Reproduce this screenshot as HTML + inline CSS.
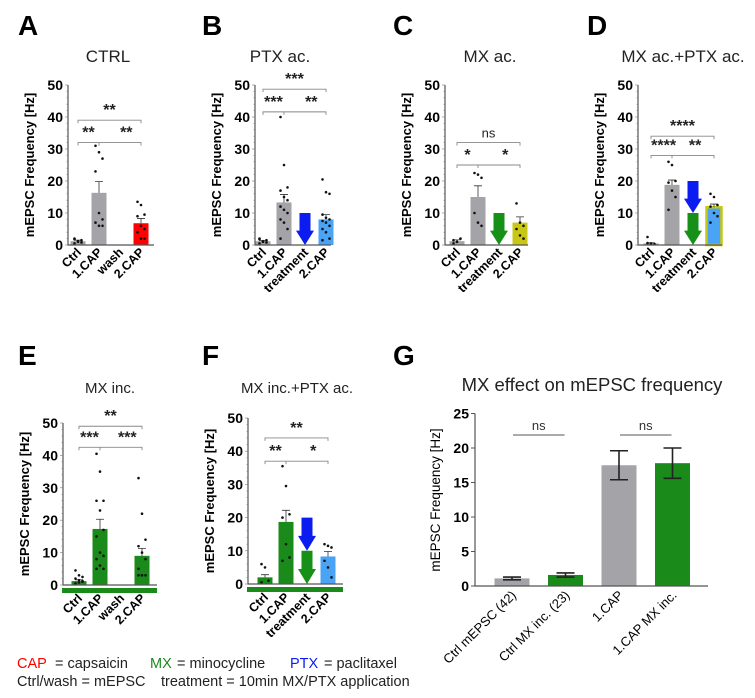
<!DOCTYPE html>
<html><head><meta charset="utf-8"><style>
body{margin:0;background:#fff;}
svg{display:block;font-family:"Liberation Sans",Arial,sans-serif;}
</style></head><body>
<svg id="fig" width="755" height="698" viewBox="0 0 755 698" xmlns="http://www.w3.org/2000/svg"></svg>
<script>
const catsCAPwash = ["Ctrl","1.CAP","wash","2.CAP"];
const catsTreat = ["Ctrl","1.CAP","treatment","2.CAP"];
const yTicks = [0,10,20,30,40,50];

const aMeans = [1.2,16.3,null,6.8];
const aSems = [0.3,3.5,null,1.5];
const aPoints = [[0.5,1,1.5,2,1.2,0.8,1.8],[31,29,27,23,10,8,7,6,6],[],[13.5,12.5,9.5,9,6,5,4,2,2,4]];
const bMeans = [1.2,13.3,null,8];
const bSems = [0.2,2.5,null,1.5];
const bPoints = [[0.5,1,1.5,2,1.2,0.8,1.8,1],[40,25,18,17,15,14,12,11,10,8,7,5,2],[],[20.5,16.5,16,9.5,8.5,8,7.5,7,6,5,4,2,1.5]];
const cMeans = [1.2,15,null,7];
const cSems = [0.4,3.5,null,1.8];
const cPoints = [[0.5,1,2,1.5,1],[22.5,22,21,10,7,6],[],[13,7,6,5,3,2]];
const dMeans = [0.5,18.8,null,11.8];
const dSems = [0.2,1.5,null,1];
const dPoints = [[2.5,0.5,0.3,0.6,0.4],[26,25,20,19.5,17,15,11],[],[16,15,12.5,12,10,9,7]];
const eMeans = [1.2,17.3,null,9];
const eSems = [0.4,3,null,2.3];
const ePoints = [[4.5,3,2.5,2,1.5,1,0.5,0.8,1.2],[40.5,35,26,26,23,17,15,10,9,8,6,5,5],[],[33,22,14,12,10,8,5,3,3,3,3]];
const fMeans = [2,18.7,null,8.3];
const fSems = [0.8,3.5,null,1.5];
const fPoints = [[6,5,1,0.5],[35.5,29.5,21,20,12,8,7],[],[12,11.5,11,7,5,2]];

const gCats = ["Ctrl mEPSC (42)","Ctrl MX inc. (23)","1.CAP","1.CAP MX inc."];
const gMeans = [1.1,1.6,17.5,17.8];
const gSems = [0.2,0.3,2.1,2.2];
const gTicks = [0,5,10,15,20,25];

const NS="http://www.w3.org/2000/svg";
const svg=document.getElementById('fig');
function mk(tag,attrs,parent,text){const e=document.createElementNS(NS,tag);for(const k in attrs)e.setAttribute(k,attrs[k]);if(text!==undefined)e.textContent=text;(parent||svg).appendChild(e);return e;}
const GREY="#a3a3a8",GREEN="#1a8a1a",RED="#f00",LBLUE="#4aa3f5",YEL="#c8c814",BLUE="#0a1cf0",AGREEN="#169016";

function panel(p){
  const g=mk('g',{});
  
  
  const ys=v=>p.y0-(v/50)*(p.y0-p.y50);
  const xs=i=>p.ax+p.off+i*21;
  let t=mk('text',{x:p.lx,y:p.ly,'font-size':28,'font-weight':'bold'},g,p.letter);
  
  t=mk('text',{x:p.tx,y:p.ty,'font-size':p.tfs,'text-anchor':'middle',fill:'#222'},g,p.title);
  
  t=mk('text',{x:0,y:0,'font-size':13,'font-weight':'bold','text-anchor':'middle',transform:`translate(${p.ax-34},${(p.y0+p.y50)/2}) rotate(-90)`},g,'mEPSC Frequency [Hz]');
  
  p.means.forEach((m,i)=>{
    if(m===null)return;
    const col=p.colors[i];
    const r=mk('rect',{x:xs(i)-7.5,y:ys(m),width:15,height:p.y0-ys(m),fill:col.fill,stroke:col.stroke||'none','stroke-width':col.stroke?2.5:0},g);
    
    
    const s=p.sems[i];
    mk('path',{d:`M${xs(i)} ${ys(m)}V${ys(m+s)}M${xs(i)-4} ${ys(m+s)}H${xs(i)+4}`,stroke:'#333','stroke-width':0.8,fill:'none'},g);
    p.points[i].forEach((v,j)=>{
      const c=mk('circle',{cx:xs(i)+((j%3)-1)*3.5,cy:ys(v),r:1.3,fill:'#111'},g);
      
    });
  });
  p.arrows.forEach(a=>{
    const x=xs(2),top=ys(a.from),bot=ys(a.to),h=(bot-top)*0.45;
    const ar=mk('polygon',{points:`${x-5.5},${top} ${x+5.5},${top} ${x+5.5},${bot-h} ${x+9},${bot-h} ${x},${bot} ${x-9},${bot-h} ${x-5.5},${bot-h}`,fill:a.color},g);
    
  });
  const ax=mk('path',{d:`M${p.ax} ${p.y50}V${p.y0}H${p.ax+p.len}`,stroke:'#555','stroke-width':1.2,fill:'none'},g);
  
  for(let v=0;v<=50;v+=2){mk('line',{x1:p.ax-(v%10?1.5:3),x2:p.ax,y1:ys(v),y2:ys(v),stroke:'#777','stroke-width':0.6},g);}
  yTicks.forEach(v=>{const tt=mk('text',{x:p.ax-5,y:ys(v)+5,'font-size':14,'font-weight':'bold','text-anchor':'end'},g,v);
    });
  if(p.greenBar){const gb=mk('rect',{x:p.ax-1,y:p.y0+3,width:p.len+1,height:5,fill:GREEN},g);}
  p.cats.forEach((c,i)=>{const tt=mk('text',{x:0,y:0,'font-size':12.5,'font-weight':'bold','text-anchor':'end',transform:`translate(${xs(i)+4},${p.y0+(p.greenBar?14:8)}) rotate(-45)`},g,c);
    });
  p.sig.forEach(s=>{
    const y=ys(s.level),x1=xs(0),x2=xs(3);
    mk('path',{d:`M${x1} ${y+3}V${y}H${x2}V${y+3}`+(s.mid?`M${xs(1)} ${y}V${y+3}`:''),stroke:'#888','stroke-width':0.9,fill:'none'},g);
    s.labels.forEach(l=>{const tt=mk('text',{x:l[0]===null?(x1+x2)/2:xs(l[0]),y:y-5,'font-size':l[1]==='ns'?13:16,'font-weight':l[1]==='ns'?'normal':'bold','text-anchor':'middle',fill:'#222'},g,l[1]);
      });
  });
}
const C=(f,s)=>({fill:f,stroke:s});
panel({name:'panel-a-ctrl',letter:'A',lx:18,ly:35,title:'CTRL',tx:108,ty:62,tfs:17,ax:68,off:10,len:86,y0:245,y50:85,cats:catsCAPwash,means:aMeans,sems:aSems,points:aPoints,colors:[C(GREY),C(GREY),null,C(RED)],arrows:[],
  sig:[{level:39,labels:[[null,'**']]},{level:32,mid:true,labels:[[0.5,'**'],[2.3,'**']]}]});
panel({name:'panel-b-ptx-ac',letter:'B',lx:202,ly:35,title:'PTX ac.',tx:280,ty:62,tfs:17,ax:255,off:8,len:76,y0:245,y50:85,cats:catsTreat,means:bMeans,sems:bSems,points:bPoints,colors:[C(GREY),C(GREY),null,C(LBLUE)],arrows:[{from:10,to:0,color:BLUE}],
  sig:[{level:48.7,labels:[[null,'***']]},{level:41.6,mid:true,labels:[[0.5,'***'],[2.3,'**']]}]});
panel({name:'panel-c-mx-ac',letter:'C',lx:393,ly:35,title:'MX ac.',tx:490,ty:62,tfs:17,ax:445,off:12,len:83,y0:245,y50:85,cats:catsTreat,means:cMeans,sems:cSems,points:cPoints,colors:[C(GREY),C(GREY),null,C(YEL)],arrows:[{from:10,to:0,color:AGREEN}],
  sig:[{level:32,labels:[[null,'ns']]},{level:25,mid:true,labels:[[0.5,'*'],[2.3,'*']]}]});
panel({name:'panel-d-mx-ptx-ac',letter:'D',lx:587,ly:35,title:'MX ac.+PTX ac.',tx:683,ty:62,tfs:17,ax:638,off:13,len:84,y0:245,y50:85,cats:catsTreat,means:dMeans,sems:dSems,points:dPoints,colors:[C(GREY),C(GREY),null,C(LBLUE,YEL)],arrows:[{from:20,to:10,color:BLUE},{from:10,to:0,color:AGREEN}],
  sig:[{level:34,labels:[[null,'****']]},{level:28,mid:true,labels:[[0.6,'****'],[2.1,'**']]}]});
panel({name:'panel-e-mx-inc',letter:'E',lx:18,ly:365,title:'MX inc.',tx:110,ty:393,tfs:15,ax:63,off:16,len:94,y0:585,y50:423,greenBar:true,cats:catsCAPwash,means:eMeans,sems:eSems,points:ePoints,colors:[C(GREEN),C(GREEN),null,C(GREEN)],arrows:[],
  sig:[{level:49,labels:[[null,'**']]},{level:42.5,mid:true,labels:[[0.5,'***'],[2.3,'***']]}]});
panel({name:'panel-f-mx-inc-ptx-ac',letter:'F',lx:202,ly:365,title:'MX inc.+PTX ac.',tx:297,ty:393,tfs:15,ax:248,off:17,len:95,y0:584,y50:418,greenBar:true,cats:catsTreat,means:fMeans,sems:fSems,points:fPoints,colors:[C(GREEN),C(GREEN),null,C(LBLUE)],arrows:[{from:20,to:10,color:BLUE},{from:10,to:0,color:AGREEN}],
  sig:[{level:44,labels:[[null,'**']]},{level:37,mid:true,labels:[[0.5,'**'],[2.3,'*']]}]});

(function(){
  const g=mk('g',{});
  
  
  const ax=475,y0=586,yTop=413.5,len=233;
  const ys=v=>y0-(v/25)*(y0-yTop);
  const xs=i=>512+i*53.5;
  const cols=[GREY,GREEN,GREY,GREEN];
  let t=mk('text',{x:393,y:365,'font-size':28,'font-weight':'bold'},g,'G');
  
  t=mk('text',{x:592,y:391,'font-size':18.5,'text-anchor':'middle',fill:'#222'},g,'MX effect on mEPSC frequency');
  
  t=mk('text',{x:0,y:0,'font-size':13.5,'text-anchor':'middle',transform:`translate(440,500) rotate(-90)`},g,'mEPSC Frequency [Hz]');
  
  gMeans.forEach((m,i)=>{
    const r=mk('rect',{x:xs(i)-17.5,y:ys(m),width:35,height:y0-ys(m),fill:cols[i]},g);
    
    const s=gSems[i];
    mk('path',{d:`M${xs(i)} ${ys(m-s)}V${ys(m+s)}M${xs(i)-9} ${ys(m+s)}H${xs(i)+9}M${xs(i)-9} ${ys(m-s)}H${xs(i)+9}`,stroke:'#222','stroke-width':1.6,fill:'none'},g);
    const tt=mk('text',{x:0,y:0,'font-size':13,'text-anchor':'end',transform:`translate(${xs(i)+5},${y0+10}) rotate(-45)`},g,gCats[i]);
    
  });
  const a=mk('path',{d:`M${ax} ${yTop}V${y0}H${ax+len}`,stroke:'#555','stroke-width':1.2,fill:'none'},g);
  
  gTicks.forEach(v=>{mk('line',{x1:ax-4,x2:ax,y1:ys(v),y2:ys(v),stroke:'#555'},g);
    const tt=mk('text',{x:ax-6,y:ys(v)+5,'font-size':14,'font-weight':'bold','text-anchor':'end'},g,v);
    });
  [[0,1],[2,3]].forEach(pr=>{const y=435;
    mk('line',{x1:xs(pr[0])+1,x2:xs(pr[1])-1,y1:y,y2:y,stroke:'#555','stroke-width':1},g);
    const tt=mk('text',{x:(xs(pr[0])+xs(pr[1]))/2,y:y-5,'font-size':13,'text-anchor':'middle',fill:'#333'},g,'ns');
    });
})();

(function(){
  const g=mk('g',{'font-size':14.5,fill:'#222'});
  
  
  mk('text',{x:17,y:668,fill:RED},g,'CAP');
  mk('text',{x:55,y:668},g,'= capsaicin');
  mk('text',{x:150,y:668,fill:GREEN},g,'MX');
  mk('text',{x:177,y:668},g,'= minocycline');
  mk('text',{x:290,y:668,fill:BLUE},g,'PTX');
  mk('text',{x:324,y:668},g,'= paclitaxel');
  mk('text',{x:17,y:686},g,'Ctrl/wash = mEPSC');
  mk('text',{x:161,y:686},g,'treatment = 10min MX/PTX application');
})();
</script>
</body></html>
